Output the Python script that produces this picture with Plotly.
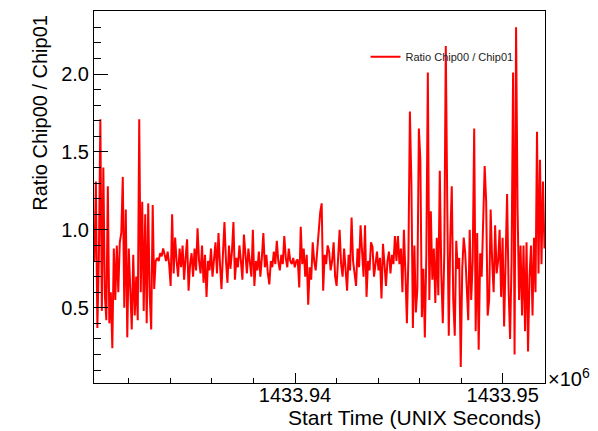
import plotly.graph_objects as go

# Ratio of Chip00 to Chip01 rates, one sample every 72 s
t_start = 1433930340  # UNIX seconds of first sample
t_step = 72

ratio_early = [
    0.80, 1.31, 0.37, 0.82, 1.71, 0.48, 1.40, 0.58, 0.42, 1.28,
    0.40, 0.60, 0.24, 0.88, 0.55, 0.90, 0.60, 0.92, 0.98, 1.34,
    0.50, 1.13, 0.31, 0.88, 0.62, 0.36, 0.84, 0.45, 0.70, 0.42,
    1.71, 0.60, 1.18, 0.48, 1.10, 0.40, 1.17, 0.58, 0.36, 1.16,
    0.62, 0.80,
]
ratio_middle = [
    0.82, 0.80, 0.85, 0.83, 0.88, 0.84, 0.80, 0.86, 0.78, 0.64,
    1.10, 0.72, 0.95, 0.80, 0.70, 0.88, 0.76, 0.90, 0.68, 0.82,
    0.94, 0.61, 0.78, 0.85, 0.70, 0.88, 0.74, 1.01, 0.80, 0.72,
    0.90, 0.66, 0.84, 0.57, 0.80, 0.74, 0.88, 0.70, 0.82, 0.92,
    0.72, 0.98, 0.78, 0.62, 0.85, 1.05, 0.80, 0.66, 0.90, 0.75,
    0.86, 1.05, 0.68, 0.82, 0.76, 0.90, 0.80, 0.68, 0.97, 0.84,
    0.72, 0.88, 0.78, 0.70, 1.00, 0.64, 0.80, 0.74, 0.86, 0.70,
    0.82, 0.98, 0.76, 0.84, 0.72, 0.65, 0.80, 0.76, 0.86, 0.78,
    0.93, 0.80, 0.74, 0.84, 0.78, 0.96, 0.82, 0.76, 0.88, 0.80,
    0.78, 0.82, 0.76, 0.80, 0.81, 0.63, 1.02, 0.78, 0.88, 0.70,
    0.84, 0.52, 0.76, 0.68, 0.92, 0.80, 0.74, 0.86, 0.96, 1.11,
    1.17, 0.61, 0.84, 0.78, 0.90, 0.86, 0.74, 0.80, 0.92, 0.70,
    0.64, 0.82, 1.00, 0.78, 0.70, 0.88, 0.76, 0.61, 0.84, 0.74,
    1.08, 0.80, 0.72, 0.64, 0.88, 0.76, 1.03, 0.82, 0.70, 1.03,
    0.57, 0.80, 0.74, 0.92, 0.89, 0.70, 0.78, 0.86, 0.74, 0.82,
    0.56, 0.91, 0.78, 0.64, 0.80, 0.86, 0.72, 0.84, 0.78,
]
ratio_late = [
    0.96, 0.80, 0.96, 0.78, 0.88, 0.60, 1.00, 0.72, 0.40, 0.82,
    1.76, 1.30, 0.37, 0.90, 0.47, 0.62, 1.65, 1.45, 0.44, 0.75,
    0.31, 0.85, 2.01, 0.55, 1.12, 0.68, 0.88, 0.53, 0.95, 0.58,
    1.38, 0.72, 0.40, 0.85, 2.18, 1.15, 0.32, 0.95, 1.28, 0.55,
    0.32, 0.93, 0.75, 0.82, 0.12, 0.75, 0.95, 0.85, 0.64, 0.42,
    1.00, 0.55, 0.80, 1.65, 0.35, 0.98, 0.23, 0.85, 0.70, 1.08,
    1.41, 1.18, 0.45, 0.55, 1.13, 0.80, 0.60, 1.03, 0.72, 0.80,
    1.00, 0.57, 0.95, 0.38, 0.90, 1.23, 0.62, 0.30, 0.80, 2.01,
    0.20, 2.30, 1.14, 0.55, 0.90, 0.45, 0.90, 0.35, 0.92, 0.22,
    0.70, 0.90, 0.45, 0.95, 0.60, 1.63, 0.72, 1.45, 0.78, 1.31,
    0.88,
]

ratio = ratio_early + ratio_middle + ratio_late
times = [t_start + t_step * i for i in range(len(ratio))]

x_range = [1433930322, 1433952037]
y_range = [0.017, 2.405]
x_major = [1433940000, 1433950000]
x_major_text = ["1433.94", "1433.95"]

font_family = "Liberation Sans, Arial, Helvetica, sans-serif"

fig = go.Figure()
fig.add_trace(go.Scatter(
    x=times, y=ratio, mode="lines",
    line=dict(color="#ff0000", width=2),
    name="Ratio Chip00 / Chip01",
))

fig.update_layout(
    width=598, height=431,
    margin=dict(l=94, r=53, t=11, b=48),
    paper_bgcolor="white", plot_bgcolor="white",
    font=dict(family=font_family, size=20, color="black"),
    showlegend=True,
    legend=dict(
        x=0.602, y=0.877, xanchor="left", yanchor="middle",
        bgcolor="rgba(0,0,0,0)", borderwidth=0,
        font=dict(size=11, color="#222222"),
    ),
    xaxis=dict(
        range=x_range, showgrid=False, zeroline=False,
        showline=True, linecolor="black", linewidth=1, mirror=True,
        tickmode="array", tickvals=x_major, ticktext=x_major_text,
        ticks="inside", ticklen=10, tickwidth=1, tickcolor="black",
        ticklabelstandoff=-6,
        minor=dict(tick0=1433940000, dtick=2000, ticks="inside",
                   ticklen=5, tickwidth=1, tickcolor="black", showgrid=False),
        tickfont=dict(size=20),
    ),
    yaxis=dict(
        range=y_range, showgrid=False, zeroline=False,
        showline=True, linecolor="black", linewidth=1, mirror=True,
        tickmode="linear", tick0=0.5, dtick=0.5, tickformat=".1f",
        ticks="inside", ticklen=14, tickwidth=1, tickcolor="black",
        minor=dict(tick0=0.0, dtick=0.1, ticks="inside",
                   ticklen=7, tickwidth=1, tickcolor="black", showgrid=False),
        tickfont=dict(size=20),
    ),
    annotations=[
        dict(text="Start Time (UNIX Seconds)", xref="paper", yref="paper",
             x=0.995, y=-0.0914, xanchor="right", yanchor="middle",
             showarrow=False, font=dict(size=21)),
        dict(text="Ratio Chip00 / Chip01", xref="paper", yref="paper",
             x=-0.12, y=0.995, xanchor="center", yanchor="top", textangle=-90,
             showarrow=False, font=dict(size=20)),
        dict(text="×10<sup>6</sup>", xref="paper", yref="paper",
             x=1.003, y=0.015, xanchor="left", yanchor="middle",
             showarrow=False, font=dict(size=20)),
    ],
)

fig.write_html("out.html")
